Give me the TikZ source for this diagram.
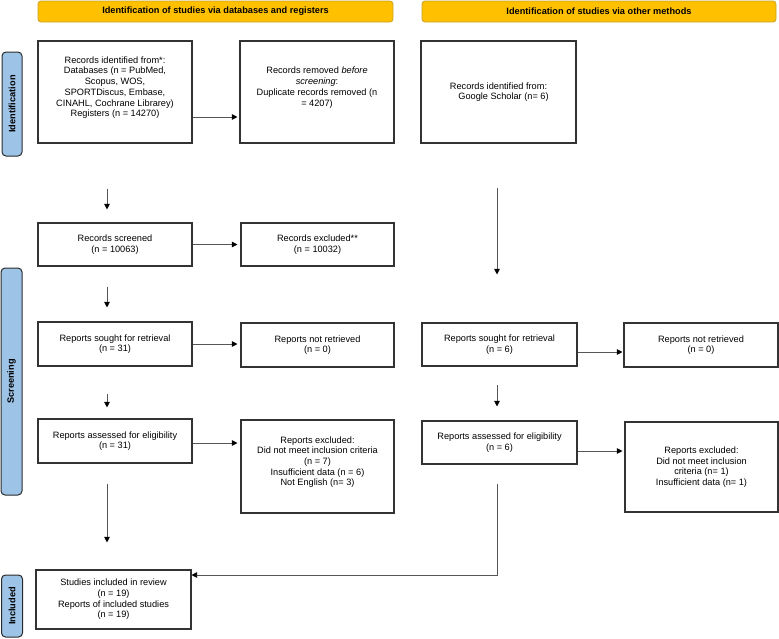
\documentclass[tikz,border=0pt]{standalone}
\usepackage{fontspec}
\setmainfont{Liberation Sans}
\usetikzlibrary{arrows.meta,calc}
\definecolor{hdrfill}{HTML}{FFC000}
\definecolor{hdrdraw}{HTML}{C9A227}
\definecolor{sidefill}{HTML}{9DC3E6}
\definecolor{sidedraw}{HTML}{2B2B2B}
\definecolor{boxdraw}{HTML}{333333}
\definecolor{arrcol}{HTML}{555555}
\begin{document}
\begin{tikzpicture}[x=1pt,y=-1pt,
  every node/.style={font=\fontsize{9.2}{10.7}\selectfont},
  box/.style={draw=boxdraw, line width=1.1pt, align=center, inner sep=2pt},
  hdr/.style={draw=hdrdraw, fill=hdrfill, line width=0.8pt, rounded corners=3pt, font=\fontsize{9.2}{10.7}\selectfont\bfseries, minimum height=21pt},
  side/.style={draw=sidedraw, fill=sidefill, line width=1pt, rounded corners=4pt, rotate=90, font=\fontsize{9.2}{10.7}\selectfont\bfseries, inner sep=0pt},
  arr/.style={draw=arrcol, line width=0.8pt, -{Triangle[length=5.5pt,width=5.5pt,color=black]}}
]
\useasboundingbox (0,0) rectangle (779,638);

% headers
\node[hdr, minimum width=355pt] (h1) at (215.5,11.5) {Identification of studies via databases and registers};
\node[hdr, minimum width=354pt] (h2) at (599,11.5) {Identification of studies via other methods};

% side labels
\node[side, minimum width=104pt, minimum height=20pt] (s1) at (12,104) {Identification};
\node[side, minimum width=227pt, minimum height=21pt] (s2) at (11.5,381.5) {Screening};
\node[side, minimum width=62pt, minimum height=21pt] (s3) at (12,606) {Included};

% left column
\node[box, minimum width=154pt, minimum height=102pt] (A) at (115,92) {Records identified from*:\\Databases (n = PubMed,\\Scopus, WOS,\\SPORTDiscus, Embase,\\CINAHL, Cochrane Librarey)\\Registers (n = 14270)\\};
\node[box, minimum width=154pt, minimum height=102pt] (B) at (317,92) {Records removed \textit{before}\\\textit{screening}:\\Duplicate records removed (n\\= 4207)\\};
\node[box, minimum width=155pt, minimum height=102pt] (C) at (498.5,92) {Records identified from:\\\hspace*{10pt}Google Scholar (n= 6)};

\node[box, minimum width=154pt, minimum height=43pt] (D) at (115,244.5) {Records screened\\(n = 10063)};
\node[box, minimum width=153pt, minimum height=43pt] (E) at (317.5,244.5) {Records excluded**\\(n = 10032)};

\node[box, minimum width=154pt, minimum height=44pt] (F) at (115,344) {Reports sought for retrieval\\(n = 31)};
\node[box, minimum width=153pt, minimum height=44pt] (G) at (317.5,345) {Reports not retrieved\\(n = 0)};
\node[box, minimum width=155pt, minimum height=43pt] (K) at (499.5,344.5) {Reports sought for retrieval\\(n = 6)};
\node[box, minimum width=154pt, minimum height=44pt] (L) at (701,345) {Reports not retrieved\\(n = 0)};

\node[box, minimum width=154pt, minimum height=44pt] (H) at (115,441) {Reports assessed for eligibility\\(n = 31)};
\node[box, minimum width=153pt, minimum height=93pt] (I) at (317.5,466.5) {Reports excluded:\\Did not meet inclusion criteria\\(n = 7)\\Insufficient data (n = 6)\\Not English (n= 3)\\};
\node[box, minimum width=155pt, minimum height=43pt] (M) at (499.5,442.5) {Reports assessed for eligibility\\(n = 6)};
\node[box, minimum width=153pt, minimum height=90pt] (N) at (701.5,467) {Reports excluded:\\Did not meet inclusion\\criteria (n= 1)\\Insufficient data (n= 1)};

\node[box, minimum width=155pt, minimum height=59pt] (J) at (113.5,599.5) {Studies included in review\\(n = 19)\\Reports of included studies\\(n = 19)};

% vertical arrows left
\draw[arr, shorten <=45pt, shorten >=13pt] ([xshift=-8pt]A.south) -- ([xshift=-8pt]D.north);
\draw[arr, shorten <=20pt, shorten >=14pt] ([xshift=-8pt]D.south) -- ([xshift=-8pt]F.north);
\draw[arr, shorten <=27pt, shorten >=11pt] ([xshift=-8pt]F.south) -- ([xshift=-8pt]H.north);
\draw[arr, shorten <=20pt, shorten >=27pt] ([xshift=-8pt]H.south) -- ([xshift=-6.5pt]J.north);

% horizontal arrows
\coordinate (a1) at ([yshift=-25pt]A.east);
\draw[arr, shorten >=2pt] (a1) -- (a1 -| B.west);
\draw[arr, shorten >=3pt] (D.east) -- (D.east -| E.west);
\draw[arr, shorten >=3pt] (F.east) -- (F.east -| G.west);
\coordinate (h1a) at ([yshift=-2pt]H.east);
\draw[arr, shorten >=3pt] (h1a) -- (h1a -| I.west);

% right column
\draw[arr, shorten <=44pt, shorten >=48pt] ([xshift=-1.5pt]C.south) -- ([xshift=-2.5pt]K.north);
\draw[arr, shorten <=18pt, shorten >=14pt] ([xshift=-2.5pt]K.south) -- ([xshift=-2.5pt]M.north);
\coordinate (k1) at ([yshift=-7.5pt]K.east);
\draw[arr, shorten >=1pt] (k1) -- (k1 -| L.west);
\coordinate (m1) at ([yshift=-8.5pt]M.east);
\draw[arr, shorten >=2pt] (m1) -- (m1 -| N.west);
\coordinate (j1) at ([yshift=24.5pt]J.east);
\draw[arr, shorten <=19pt] ([xshift=-2.5pt]M.south) |- (j1);
\end{tikzpicture}
\end{document}
